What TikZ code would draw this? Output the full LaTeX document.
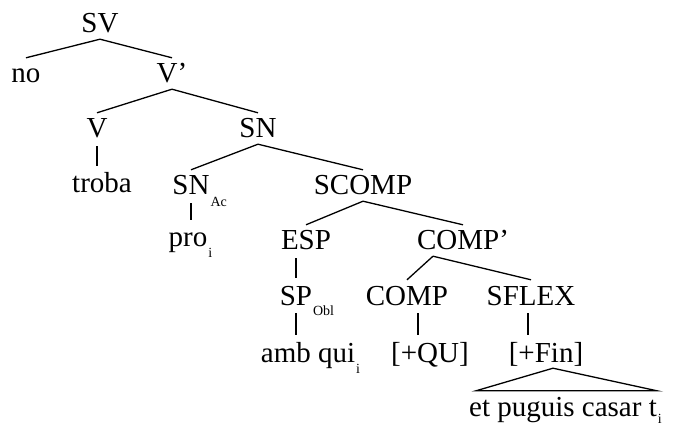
\documentclass[tikz,border=0pt]{standalone}
\usepackage{fontspec}
\setmainfont{Liberation Serif}
\newcommand{\lowsub}[2][11pt]{\rlap{\raisebox{-#1}{\fontsize{14}{14}\selectfont\kern1pt #2}}}
\tikzset{
  cat/.style={
    anchor=base,
    font=\fontsize{29}{29}\selectfont,
    inner xsep=0pt,
    inner ysep=6pt,
    text height=19pt,
    text depth=0pt
  },
  branch/.style={line width=1.3pt},
  unary/.style={line width=1.3pt, shorten <=2pt, shorten >=2pt}
}

\begin{document}
\begin{tikzpicture}[x=1pt,y=-1pt]
\useasboundingbox (0,0) rectangle (678,425);

\node [cat] (sv) at (100,33) {SV};
\node [cat] (no) at (26,83) {no};
\node [cat] (vbar) at (172,83) {V’};
\node [cat] (v) at (97,138) {V};
\node [cat] (sn) at (258,138) {SN};
\node [cat] (troba) at (102,193) {troba};
\node [cat] (snac) at (191,195) {SN\lowsub[12pt]{Ac}};
\node [cat] (scomp) at (363,195) {SCOMP};
\node [cat] (pro) at (188,247) {pro\lowsub[10pt]{i}};
\node [cat] (esp) at (306,250) {ESP};
\node [cat] (compbar) at (463,250) {COMP’};
\node [cat] (spobl) at (296,305) {SP\lowsub[10pt]{Obl}};
\node [cat] (comp) at (407,305) {COMP};
\node [cat] (sflex) at (531,305) {SFLEX};
\node [cat] (ambqui) at (308,362) {amb qui\lowsub{i}};
\node [cat] (qu) at (430,362) {[+QU]};
\node [cat] (fin) at (546,362) {[+Fin]};
\node [cat] (clause) at (563,416) {et puguis casar t\lowsub[7pt]{i}};

\draw [branch] (sv.south) -- (no.north);
\draw [branch] (sv.south) -- (vbar.north);
\draw [branch] (vbar.south) -- (v.north);
\draw [branch] (vbar.south) -- (sn.north);
\draw [branch] (sn.south) -- (snac.north);
\draw [branch] (sn.south) -- (scomp.north);
\draw [branch] (scomp.south) -- (esp.north);
\draw [branch] (scomp.south) -- (compbar.north);
\draw [branch] ([xshift=-30pt]compbar.south) -- (comp.north);
\draw [branch] ([xshift=-30pt]compbar.south) -- (sflex.north);

\draw [unary] (v.south) -- (v.south |- troba.north);
\draw [unary] (snac.south) -- (snac.south |- pro.north);
\draw [unary] (esp.south -| spobl.south) -- (spobl.north);
\draw [unary] (spobl.south) -- (spobl.south |- ambqui.north);
\draw [unary] ([xshift=11pt]comp.south) -- ([xshift=11pt]comp.south |- qu.north);
\draw [unary] ([xshift=-3pt]sflex.south) -- ([xshift=-3pt]sflex.south |- fin.north);

\draw [branch] ([xshift=7pt]fin.south) -- ([xshift=7pt]clause.north west) -- (clause.north east) -- cycle;
\end{tikzpicture}
\end{document}
